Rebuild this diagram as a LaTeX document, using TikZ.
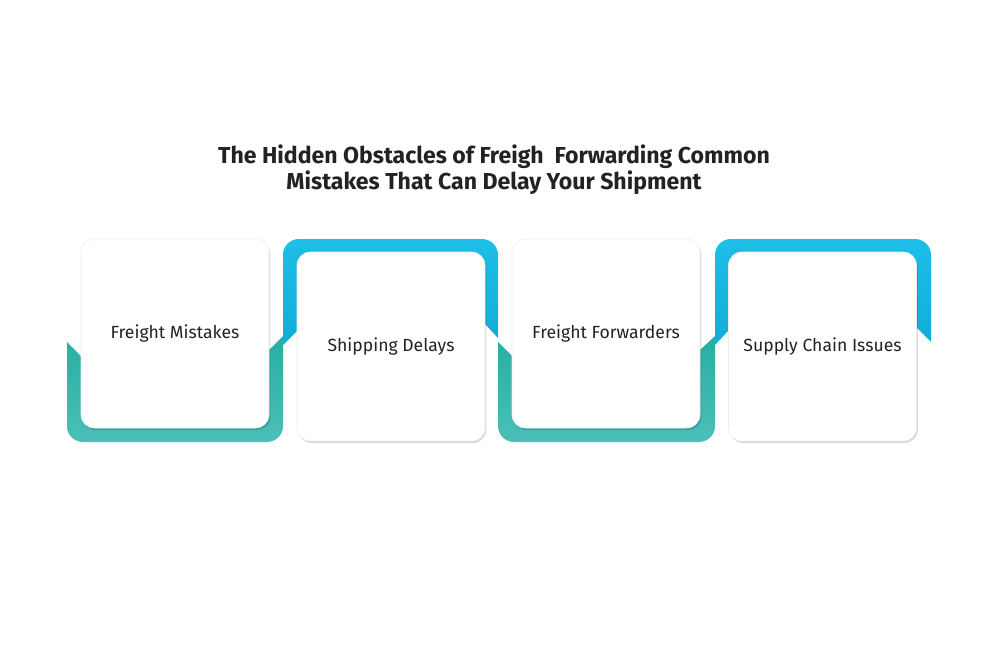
\documentclass[tikz,border=0pt]{standalone}
\usepackage{fontspec}
\setmainfont{Fira Sans}
\usetikzlibrary{shadows}

\definecolor{tealtop}{HTML}{1CA89C}
\definecolor{tealbot}{HTML}{4BBFB7}
\definecolor{bluetop}{HTML}{1DBEE8}
\definecolor{bluebot}{HTML}{0DA4CD}
\definecolor{inktext}{HTML}{222222}

\begin{document}
\begin{tikzpicture}[x=0.75pt, y=-0.75pt,
    card/.style={draw=black!7, fill=white, rounded corners=10pt,
      minimum width=141pt, minimum height=141.75pt, inner sep=0pt,
      font=\fontsize{13.2}{15}\selectfont, text=inktext,
      drop shadow={shadow xshift=1pt, shadow yshift=-1.5pt, opacity=0.15, fill=black}},
    heading/.style={align=center, text=inktext, font=\bfseries\fontsize{17.3}{19.5}\selectfont},
    tealband/.style={top color=tealtop, bottom color=tealbot, rounded corners=12pt},
    blueband/.style={top color=bluetop, bottom color=bluebot, rounded corners=12pt}]

  \useasboundingbox[fill=white] (0,0) rectangle (998,652);

  % ==================== title ====================
  \node[heading] (title) at (494,170)
    {The Hidden Obstacles of Freigh~~Forwarding Common\\Mistakes That Can Delay Your Shipment};

  % --- 1. Freight Mistakes (teal below) ---
  \begin{scope}
    \clip (60,342) -- (67,342) -- (81,356) -- (269,350) -- (283,336) -- (290,336)
      -- (290,460) -- (60,460) -- cycle;
    \shade[tealband] (67,300) rectangle (283,442);
  \end{scope}
  \node[card] (mistakes) at (175,333.5) {Freight Mistakes};

  % --- 2. Shipping Delays (blue above) ---
  \begin{scope}
    \clip (276,345) -- (283,345) -- (297,331) -- (485,324) -- (498,338) -- (505,338)
      -- (505,230) -- (276,230) -- cycle;
    \shade[blueband] (283,239) rectangle (498,400);
  \end{scope}
  \node[card] (delays) at (391,346.5) {Shipping Delays};

  % --- 3. Freight Forwarders (teal below) ---
  \begin{scope}[shift={(431,0)}]
    \clip (60,342) -- (67,342) -- (81,356) -- (269,350) -- (284,336) -- (290,336)
      -- (290,460) -- (60,460) -- cycle;
    \shade[tealband] (67,300) rectangle (284,442);
  \end{scope}
  \node[card] (forwarders) at (606,333.5) {Freight Forwarders};

  % --- 4. Supply Chain Issues (blue above) ---
  \begin{scope}
    \clip (708,345) -- (715,345) -- (728,331) -- (917,328) -- (931,342) -- (938,342)
      -- (938,230) -- (708,230) -- cycle;
    \shade[blueband] (715,239) rectangle (931,400);
  \end{scope}
  \node[card] (issues) at (822.5,346.5) {Supply Chain Issues};
\end{tikzpicture}
\end{document}
